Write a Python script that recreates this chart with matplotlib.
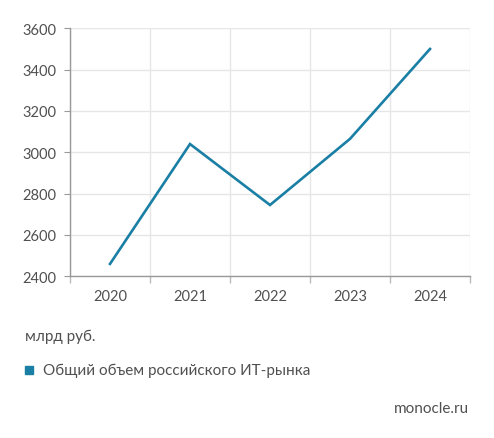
import matplotlib
matplotlib.use('Agg')
import matplotlib.pyplot as plt
import numpy as np

years = ['2020', '2021', '2022', '2023', '2024']
market_volume = [2460, 3040, 2745, 3065, 3500]
y_ticks = [2400, 2600, 2800, 3000, 3200, 3400, 3600]
series_name = 'Общий объем российского ИТ-рынка'
unit_label = 'млрд руб.'
source_label = 'monocle.ru'

plt.rcParams['font.family'] = ['Lato', 'DejaVu Sans']
line_color = '#1a7fa4'
text_color = '#505050'

W, H = 494, 439
fig = plt.figure(figsize=(W / 100, H / 100), dpi=100)
ax = fig.add_axes([70 / W, 1 - 277.3 / H, 400 / W, 248 / H])

x = np.arange(len(years))
ax.plot(x, market_volume, color=line_color, linewidth=1.9, solid_joinstyle='miter')

ax.set_xlim(-0.5, len(years) - 0.5)
ax.set_ylim(y_ticks[0], y_ticks[-1])
ax.set_yticks(y_ticks)
ax.set_xticks(x)
ax.set_xticklabels(years)
ax.set_xticks(np.arange(-0.5, len(years)), minor=True)

ax.grid(True, axis='y', color='#e6e6e6', linewidth=1)
ax.grid(True, axis='x', which='minor', color='#e6e6e6', linewidth=1)
ax.set_axisbelow(True)

for side in ['top', 'right']:
    ax.spines[side].set_visible(False)
for side in ['left', 'bottom']:
    ax.spines[side].set_color('#999999')
    ax.spines[side].set_linewidth(1)

ax.tick_params(axis='x', which='major', length=0, pad=9, labelsize=10.5, labelcolor=text_color)
ax.tick_params(axis='x', which='minor', length=5, color='#bbbbbb', width=1)
ax.tick_params(axis='y', length=4, color='#999999', pad=6, labelsize=10.5, labelcolor=text_color)

fig.text(25 / W, 1 - 337 / H, unit_label, fontsize=11, color=text_color, va='center')
fig.patches.append(plt.Rectangle((25 / W, 1 - 375 / H), 8 / W, 8 / H,
                                 transform=fig.transFigure, color=line_color))
fig.text(43 / W, 1 - 371 / H, series_name, fontsize=11, color=text_color, va='center')
fig.text(469 / W, 1 - 409 / H, source_label, fontsize=11, color=text_color, va='center', ha='right')

fig.savefig('out.png', dpi=100)
